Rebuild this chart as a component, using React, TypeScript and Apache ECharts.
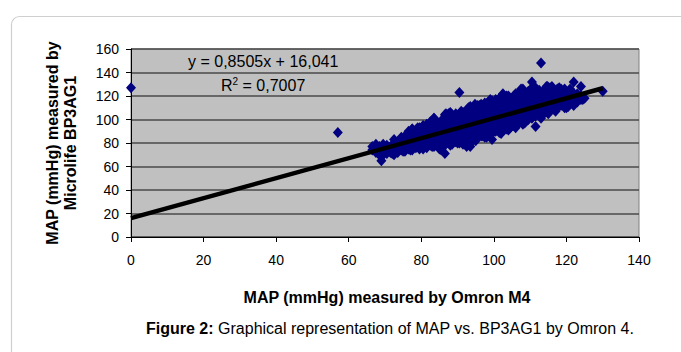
import React, { useEffect, useRef } from "react";
import * as echarts from "echarts";

// Omron M4 MAP (x) with Microlife BP3AG1 MAP readings (y) grouped by x
const omronX: number[] = [
  66.5, 67.5, 68.5, 69, 69.5, 70.5, 71.5, 72.5, 73.5, 74.5, 75.5, 76.5, 77.5, 78.5, 79.5,
  80.5, 81.5, 82.5, 83.5, 84.5, 85.5, 86.5, 87.5, 88.5, 89.5, 90.5, 91.5, 92.5, 93.5, 94.5,
  95.5, 96.5, 97.5, 98.5, 99.5, 100.5, 101.5, 102.5, 103.5, 104.5, 105.5, 106.5, 107.5, 108.5,
  109.5, 110.5, 111.5, 112.5, 113, 113.5, 114.5, 115.5, 116.5, 117.5, 118.5, 119.5, 120.5,
  121.5, 122, 123, 124, 125, 130, 0, 57,
];
const microlifeY: number[][] = [
  [77, 74], [72, 76, 79], [70, 74, 77], [65, 68], [73, 76, 79], [71, 75, 78], [74, 77, 72],
  [70, 73, 76, 80, 83], [75, 78, 81, 72], [74, 77, 80, 83, 85], [76, 79, 82, 86, 73],
  [75, 78, 81, 84, 88, 90], [77, 80, 83, 86, 92, 74], [76, 79, 82, 85, 88, 91],
  [75, 78, 81, 84, 87, 90, 93], [77, 80, 83, 86, 89, 92, 95], [76, 79, 82, 85, 88, 91, 96],
  [78, 81, 84, 87, 90, 93, 98], [77, 80, 83, 86, 89, 92, 95, 101], [79, 82, 85, 88, 91, 94, 97],
  [74, 80, 84, 87, 90, 93, 96, 99], [71, 78, 82, 86, 89, 92, 95, 100, 104],
  [80, 84, 88, 91, 94, 97, 102, 105], [79, 83, 86, 90, 93, 96, 99, 104],
  [81, 85, 88, 92, 95, 98, 101, 105], [80, 84, 87, 91, 94, 97, 100, 103, 123],
  [82, 86, 89, 93, 96, 99, 102, 106], [77, 84, 88, 91, 95, 98, 101, 104, 108],
  [80, 85, 89, 93, 97, 100, 103, 107, 111], [83, 87, 91, 95, 98, 102, 105, 110],
  [85, 88, 92, 96, 100, 103, 107, 112], [86, 90, 94, 98, 101, 105, 109, 113],
  [85, 89, 93, 97, 100, 104, 108, 114], [87, 91, 95, 99, 102, 106, 110, 115],
  [83, 88, 92, 96, 100, 104, 108, 112, 116], [90, 94, 98, 102, 106, 110, 114, 117],
  [89, 93, 97, 101, 105, 109, 113, 118], [91, 95, 99, 103, 107, 111, 116, 122],
  [92, 96, 100, 104, 108, 112, 117, 120], [93, 97, 101, 105, 109, 113, 118],
  [95, 99, 103, 107, 111, 115, 120], [96, 100, 104, 108, 112, 116, 121],
  [98, 102, 106, 110, 114, 118, 123, 126], [97, 101, 105, 109, 113, 117, 121],
  [100, 104, 108, 112, 116, 120, 124], [101, 105, 109, 113, 117, 122, 132],
  [94, 103, 107, 111, 115, 119, 123, 127], [105, 109, 113, 117, 121, 125], [148],
  [104, 108, 112, 116, 120, 124], [107, 110, 114, 118, 122, 128], [108, 112, 116, 120, 124, 127],
  [109, 113, 117, 121, 125], [110, 114, 118, 122, 126], [112, 115, 119, 123, 126],
  [110, 114, 117, 121, 125], [111, 115, 119, 123], [114, 117, 121, 124], [132],
  [115, 119, 122], [128, 117, 120], [118], [124], [127], [89],
];
// scattered readings along the edges of the cloud
const edgeX: number[] = [
  77.5, 79, 83.5, 86.8, 88, 91, 93, 94.8, 96, 99, 101, 104, 106, 108, 110.5, 114.8, 116, 118,
  119.5, 121, 72, 75, 77, 80.5, 83, 85, 88, 90, 91.5, 93.5, 95, 97, 98, 102, 104, 106, 108,
  109, 113, 115, 117, 120, 122, 124.5,
];
const edgeY: number[] = [
  92, 93, 101, 105, 106, 107, 110, 113, 112, 117, 116, 120, 122, 126, 127, 128, 128, 127,
  126, 126, 71, 73, 74, 75, 77, 75, 78, 80, 79, 77, 82, 86, 85, 88, 91, 93, 96,
  99, 101, 105, 107, 110, 112, 117,
];
const trendX: number[] = [0, 130];
const trendY: number[] = [16.041, 126.606];
const xTicks = { min: 0, max: 140, interval: 20 };
const yTicks = { min: 0, max: 160, interval: 20 };

const equationText = "y = 0,8505x + 16,041";
const r2Text = "R{sup|2} = 0,7007";
const xTitle = "MAP (mmHg) measured by Omron M4";
const yTitle = "MAP (mmHg) measured by\nMicrolife BP3AG1";

export default function App() {
  const ref = useRef<HTMLDivElement>(null);
  useEffect(() => {
    if (!ref.current) return;
    const chart = echarts.init(ref.current, undefined, { renderer: "svg" });
    const points: number[][] = [];
    omronX.forEach((x, i) => microlifeY[i].forEach((y) => points.push([x, y])));
    edgeX.forEach((x, i) => points.push([x, edgeY[i]]));
    const trend = trendX.map((x, i) => [x, trendY[i]]);
    const font = "Arial, 'Liberation Sans', sans-serif";
    chart.setOption({
      animation: false,
      textStyle: { fontFamily: font },
      grid: {
        left: 131, top: 49, right: 42, bottom: 115,
        show: true, backgroundColor: "#C0C0C0", borderColor: "#808080", borderWidth: 1,
      },
      xAxis: {
        type: "value", ...xTicks,
        axisLine: { show: true, onZero: false, lineStyle: { color: "#000", width: 1 } },
        axisTick: { show: true, length: 5, lineStyle: { color: "#000" } },
        axisLabel: { color: "#000", fontSize: 14, margin: 16, fontFamily: font },
        splitLine: { show: false },
      },
      yAxis: {
        type: "value", ...yTicks,
        axisLine: { show: true, onZero: false, lineStyle: { color: "#000", width: 1 } },
        axisTick: { show: true, length: 5, lineStyle: { color: "#000" } },
        axisLabel: { color: "#000", fontSize: 14, margin: 12, fontFamily: font },
        splitLine: { show: true, lineStyle: { color: "#4a4a4a", width: 1.5 } },
      },
      series: [
        {
          type: "scatter", data: points, symbol: "diamond", symbolSize: [10, 11],
          itemStyle: { color: "#000080", opacity: 1 }, z: 2,
        },
        {
          type: "line", data: trend, symbol: "none", z: 3,
          lineStyle: { color: "#000", width: 4.5 },
        },
      ],
      graphic: [
        {
          type: "rect", left: 9, top: 14, z: -10,
          shape: { width: 720, height: 400, r: 8 },
          style: { fill: "none", stroke: "#cfcfcf", lineWidth: 1.2 },
        },
        {
          type: "text", x: 188, y: 61,
          style: { text: equationText, fontSize: 16, fontFamily: font, fill: "#000", textVerticalAlign: "middle" },
        },
        {
          type: "text", x: 221, y: 85,
          style: {
            text: r2Text, fontSize: 16, fontFamily: font, fill: "#000", textVerticalAlign: "middle",
            rich: { sup: { fontSize: 10, verticalAlign: "top", padding: [0, 0, 8, 0], fontFamily: font } },
          },
        },
        {
          type: "text", x: 61, y: 143, rotation: Math.PI / 2,
          style: {
            text: yTitle, fontSize: 16, fontWeight: "bold", fontFamily: font, fill: "#000",
            textAlign: "center", textVerticalAlign: "middle", lineHeight: 18,
          },
        },
        {
          type: "text", x: 387, y: 297,
          style: {
            text: xTitle, fontSize: 16, fontWeight: "bold", fontFamily: font, fill: "#000",
            textAlign: "center", textVerticalAlign: "middle",
          },
        },
        {
          type: "text", x: 390, y: 328,
          style: {
            text: "{b|Figure 2:} Graphical representation of MAP vs. BP3AG1 by Omron 4.",
            fontSize: 16, fontFamily: font, fill: "#000", textAlign: "center", textVerticalAlign: "middle",
            rich: { b: { fontWeight: "bold", fontSize: 16, fontFamily: font } },
          },
        },
      ],
    });
    return () => chart.dispose();
  }, []);
  return (
    <div
      ref={ref}
      style={{ position: "fixed", left: 0, top: 0, width: 681, height: 352, background: "#fff" }}
    />
  );
}
